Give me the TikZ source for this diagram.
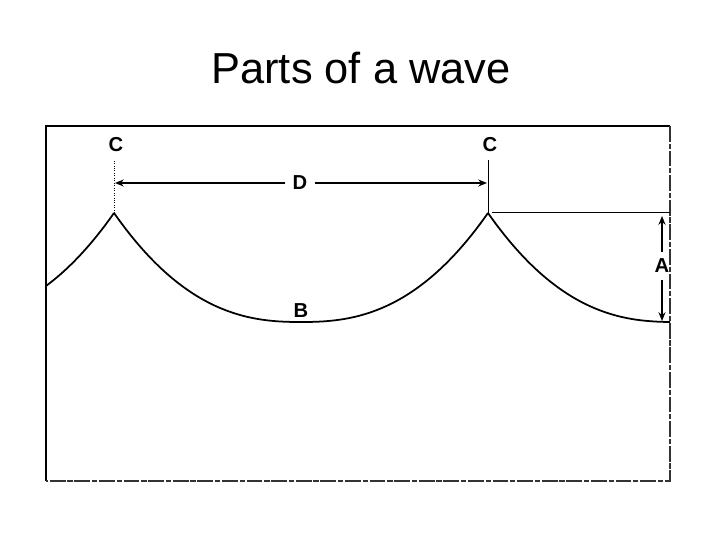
\documentclass[tikz,border=0pt]{standalone}
\usepackage{fontspec}
\setmainfont{Liberation Sans}
\usepackage{tikz}
\usetikzlibrary{arrows.meta,positioning}

\tikzset{
  lbl/.style={font=\bfseries\fontsize{11.5}{13}\selectfont, inner sep=4pt},
  dimline/.style={line width=0.7pt, -{Stealth[length=5pt,width=4pt]}},
  wave/.style={line width=1pt}
}

\begin{document}
\begin{tikzpicture}[x=0.02cm,y=-0.02cm]
    \useasboundingbox (0,0) rectangle (720,540);
    % title
    \node[anchor=base, font=\fontsize{24.7}{28}\selectfont] (title) at (361,84) {Parts of a wave};
    % frame
    \draw[line width=0.6pt] (46,481) -- (46,126) -- (670,126);
    \draw[line width=0.6pt, black!80, dash pattern=on 9pt off 1pt on 3pt off 1pt] (670,126) -- (670,481) -- (46,481);
    % wave
    \foreach \m/\a/\b in {-73/46/114, 301/114/488, 675/488/670}
      \draw[wave] plot[domain=\a:\b, samples=60, smooth]
        (\x, {322-109*(abs((\x-\m)/187)+0.0001)^2.45});
    % crests
    \coordinate (crestL) at (114,213);
    \coordinate (crestR) at (488,213);
    \coordinate (topL) at (114,160);
    \coordinate (topR) at (488,160);
    \draw[densely dotted] (crestL) -- (topL);
    \draw (crestR) -- (topR);
    \node[lbl] (C1) at (116,145) {C};
    \node[lbl] (C2) at (490,145) {C};
    % wavelength
    \coordinate (arrL) at (115,183);
    \coordinate (arrR) at (487,183);
    \node[lbl] (D) at (300,183) {D};
    \draw[dimline] (D) -- (arrL);
    \draw[dimline] (D) -- (arrR);
    % trough
    \node[lbl] (B) at (301,311) {B};
    % amplitude
    \coordinate (flat) at (492,212);
    \coordinate (flatEnd) at (670,212);
    \draw (flat) -- (flatEnd);
    \coordinate (ampT) at (662,216);
    \coordinate (ampB) at (662,321);
    \node[lbl] (A) at (662,266) {A};
    \draw[dimline] (A) -- (ampT);
    \draw[dimline] (A) -- (ampB);
\end{tikzpicture}
\end{document}
